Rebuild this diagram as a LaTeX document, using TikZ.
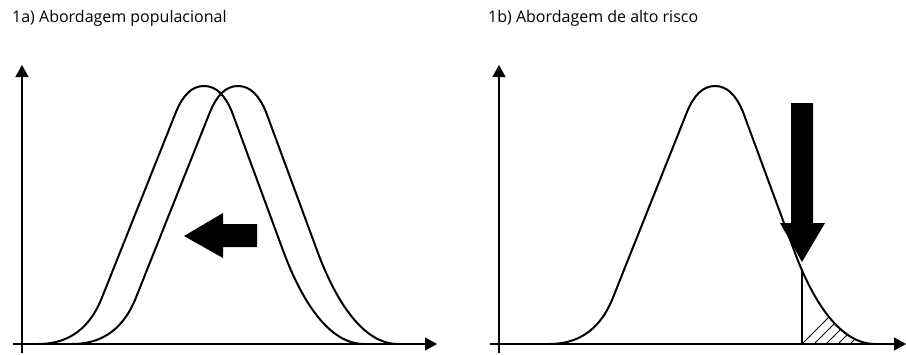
\documentclass[tikz,border=0pt]{standalone}
\usepackage{fontspec}
\setmainfont{Open Sans}
\usetikzlibrary{arrows.meta}
\tikzset{
  axis/.style={line width=1.3pt,-{Triangle[length=12pt,width=13pt]}},
  bell/.style={line width=2pt,line join=round},
  bigarrow/.style={fill=black,draw=none},
  title/.style={anchor=base west,inner sep=0pt,font=\fontsize{16}{19}\selectfont},
  hatch/.style={line width=0.9pt,black}
}
\newcommand\bellcurve{(-166,344) .. controls (-140,344) and (-117,333) .. (-103,300) -- (-28,112) .. controls (-21,95) and (-12,86) .. (0,86) .. controls (12,86) and (21,95) .. (28,112) -- (80,253) .. controls (98,301) and (125,344) .. (160,344)}
\begin{document}
\begin{tikzpicture}[x=1pt,y=-1pt]
\useasboundingbox (0,0) rectangle (906,354);
% titles
\node[title] (ta) at (12,22) {1a) Abordagem populacional};
\node[title] (tb) at (488,22) {1b) Abordagem de alto risco};
% left axes
\coordinate (ly0) at (22,353); \coordinate (ly1) at (22,65);
\coordinate (lx0) at (13,344); \coordinate (lx1) at (437,344);
\draw[axis] (ly0) -- (ly1);
\draw[axis] (lx0) -- (lx1);
% left curves
\begin{scope}[xshift=204pt]
\draw[bell] \bellcurve;
\end{scope}
\begin{scope}[xshift=238pt]
\draw[bell] \bellcurve;
\end{scope}
\fill[bigarrow] (184,236) -- (223,213) -- (223,224) -- (257,224) -- (257,247) -- (223,247) -- (223,258) -- cycle;
% right axes
\coordinate (ry0) at (499,353); \coordinate (ry1) at (499,65);
\coordinate (rx0) at (490,344); \coordinate (rx1) at (906,344);
\draw[axis] (ry0) -- (ry1);
\draw[axis] (rx0) -- (rx1);
\begin{scope}[xshift=715pt]
\begin{scope}
\clip (87,344) -- (87,260) -- (80,253) .. controls (98,301) and (125,344) .. (160,344) -- (160,350) -- (87,350) -- cycle;
\clip (0,0) rectangle (200,344);
\foreach \i in {0,...,12} {\draw[hatch] (87+\i*12-12,356) -- ++(80,-80);}
\end{scope}
\draw[bell] \bellcurve;
\draw[bell] (87,344) -- (87,270);
\end{scope}
\fill[bigarrow] (791,103) -- (813,103) -- (813,223) -- (825,223) -- (802,262) -- (780,223) -- (791,223) -- cycle;
\end{tikzpicture}
\end{document}
